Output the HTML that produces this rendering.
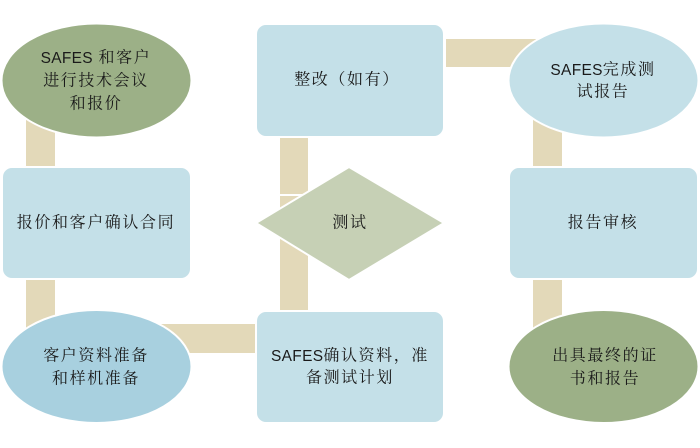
<!DOCTYPE html>
<html>
<head>
<meta charset="utf-8">
<style>
  html,body{margin:0;padding:0;background:#fff;}
  svg{display:block;}
  text{font-family:"Liberation Serif","Noto Serif CJK SC",serif;font-size:16px;fill:#1a1a1a;letter-spacing:1.6px;}
  .lat{font-family:"Liberation Sans","Noto Sans CJK SC",sans-serif;font-size:15.5px;letter-spacing:0.3px;}
</style>
</head>
<body>
<svg width="700" height="448" viewBox="0 0 700 448" xmlns="http://www.w3.org/2000/svg">
  <!-- connectors -->
  <g fill="#e3d9b9">
    <rect x="26" y="118" width="29" height="50"/>
    <rect x="26" y="279" width="29" height="52"/>
    <rect x="160" y="324" width="96" height="29"/>
    <rect x="280" y="137" width="28" height="57"/>
    <rect x="280" y="196" width="28" height="116"/>
    <rect x="446" y="39" width="90" height="28"/>
    <rect x="533" y="118" width="29" height="50"/>
    <rect x="533" y="279" width="29" height="52"/>
  </g>
  <!-- shapes -->
  <g stroke="#ffffff" stroke-width="2">
    <ellipse cx="96.5" cy="80.5" rx="95" ry="57" fill="#9cb087"/>
    <rect x="2" y="167" width="189" height="112" rx="10" fill="#c4e0e8"/>
    <ellipse cx="96.5" cy="366.5" rx="95" ry="56.5" fill="#a8d0df"/>
    <rect x="256" y="24" width="188" height="113" rx="10" fill="#c4e0e8"/>
    <polygon points="349,167 444,223 349,280 256,223" fill="#c6d0b5"/>
    <rect x="256" y="311" width="188" height="112" rx="10" fill="#c4e0e8"/>
    <ellipse cx="603.5" cy="80.5" rx="95" ry="57" fill="#c4e0e8"/>
    <rect x="509" y="167" width="189" height="112" rx="10" fill="#c4e0e8"/>
    <ellipse cx="603.5" cy="366.5" rx="95" ry="56.5" fill="#9cb087"/>
  </g>
  <!-- text -->
  <g text-anchor="middle" dominant-baseline="central">
    <text x="96" y="58"><tspan class="lat">SAFES</tspan> 和客户</text>
    <text x="96" y="81">进行技术会议</text>
    <text x="96" y="104">和报价</text>

    <text x="96" y="223">报价和客户确认合同</text>

    <text x="96" y="356">客户资料准备</text>
    <text x="96" y="379">和样机准备</text>

    <text x="347" y="80">整改（如有）</text>

    <text x="350" y="223">测试</text>

    <text x="350" y="356"><tspan class="lat">SAFES</tspan>确认资料，准</text>
    <text x="350" y="378">备测试计划</text>

    <text x="603" y="70"><tspan class="lat">SAFES</tspan>完成测</text>
    <text x="603" y="92">试报告</text>

    <text x="603" y="223">报告审核</text>

    <text x="605" y="356">出具最终的证</text>
    <text x="605" y="379">书和报告</text>
  </g>
</svg>
</body>
</html>
